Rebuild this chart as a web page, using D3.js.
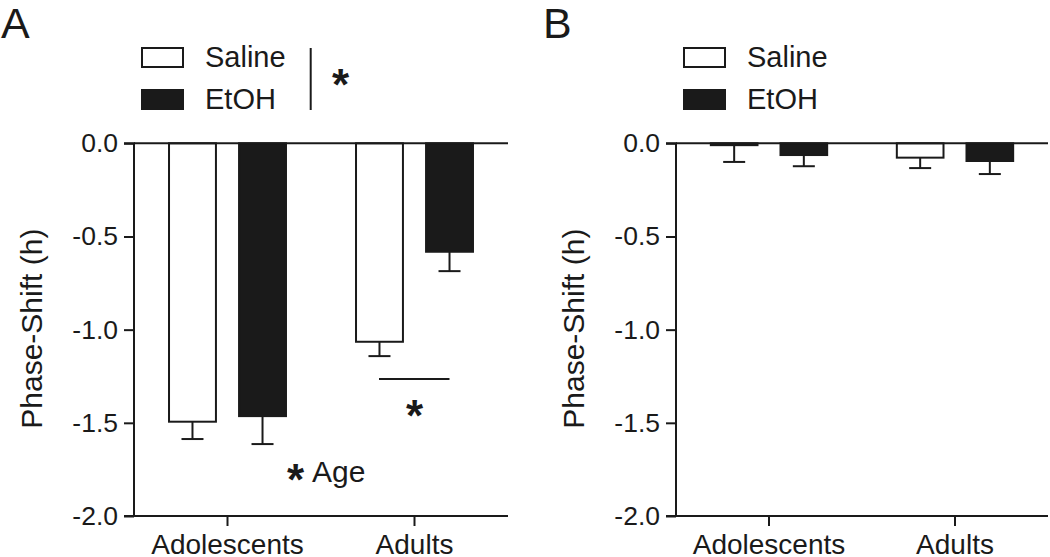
<!DOCTYPE html>
<html>
<head>
<meta charset="utf-8">
<script src="https://cdn.jsdelivr.net/npm/d3@7"></script>
<style>
  html, body { margin: 0; padding: 0; background: #fff; }
  svg { display: block; }
  text { font-family: "Liberation Sans", Arial, Helvetica, sans-serif; fill: #1a1a1a; }
</style>
</head>
<body>
<svg id="chart" width="1050" height="557"></svg>
<script>
// ---- data ----
const groups = ["Adolescents", "Adults"];
const treatments = ["Saline", "EtOH"];
const yTicks = [0, -0.5, -1.0, -1.5, -2.0];

// Panel A
const aSaline = [-1.494, -1.065];
const aSalineSem = [0.093, 0.077];
const aEtoh = [-1.464, -0.582];
const aEtohSem = [0.150, 0.104];

// Panel B
const bSaline = [-0.010, -0.077];
const bSalineSem = [0.090, 0.056];
const bEtoh = [-0.063, -0.095];
const bEtohSem = [0.060, 0.070];

const fills = { Saline: "#ffffff", EtOH: "#1a1a1a" };
const ink = "#1a1a1a";

const svg = d3.select("#chart");

function panel(opts) {
  const { x0, x1, label, saline, salineSem, etoh, etohSem } = opts;
  const yTop = 143.3, yBot = 516;
  const g = svg.append("g");

  const x = d3.scaleBand().domain(groups).range([x0, x1]).padding(0);
  const xi = d3.scaleBand().domain(treatments).range([0, x.bandwidth()])
    .paddingInner(0.33).paddingOuter(0.5);
  const y = d3.scaleLinear().domain([-2, 0]).range([yBot, yTop]);

  const rows = [];
  groups.forEach((grp, i) => {
    rows.push({ grp, t: "Saline", v: saline[i], e: salineSem[i] });
    rows.push({ grp, t: "EtOH", v: etoh[i], e: etohSem[i] });
  });

  // error bars (one-sided, downward)
  const eb = g.append("g").attr("stroke", ink).attr("stroke-width", 2);
  rows.forEach(r => {
    const cx = x(r.grp) + xi(r.t) + xi.bandwidth() / 2;
    eb.append("line").attr("x1", cx).attr("x2", cx)
      .attr("y1", y(r.v)).attr("y2", y(r.v - r.e));
    eb.append("line").attr("x1", cx - 11).attr("x2", cx + 11)
      .attr("y1", y(r.v - r.e)).attr("y2", y(r.v - r.e));
  });

  // bars
  g.append("g").selectAll("rect").data(rows).join("rect")
    .attr("x", d => x(d.grp) + xi(d.t))
    .attr("width", xi.bandwidth())
    .attr("y", d => y(0))
    .attr("height", d => y(d.v) - y(0))
    .attr("fill", d => fills[d.t])
    .attr("stroke", ink)
    .attr("stroke-width", 2);

  // zero line
  g.append("line").attr("x1", x0).attr("x2", x1)
    .attr("y1", y(0)).attr("y2", y(0))
    .attr("stroke", ink).attr("stroke-width", 2);

  // y axis
  const yAxis = d3.axisLeft(y).tickValues(yTicks).tickSize(10).tickPadding(6)
    .tickFormat(d3.format(".1f"));
  const ya = g.append("g").attr("transform", `translate(${x0},0)`).call(yAxis);
  ya.select(".domain").attr("stroke", ink).attr("stroke-width", 2)
    .attr("d", `M-10,${yTop}H0V${yBot}H-10`);
  ya.selectAll(".tick line").attr("stroke", ink).attr("stroke-width", 2);
  ya.selectAll(".tick text").attr("font-size", 26.5).attr("fill", ink)
    .style("font-family", '"Liberation Sans", Arial, sans-serif')
    .text(d => d3.format(".1f")(d).replace("−", "-"));

  // x axis
  const xAxis = d3.axisBottom(x).tickSize(10).tickPadding(8);
  const xa = g.append("g").attr("transform", `translate(0,${yBot})`).call(xAxis);
  xa.select(".domain").attr("stroke", ink).attr("stroke-width", 2)
    .attr("d", `M${x0},0H${x1}`);
  xa.selectAll(".tick line").attr("stroke", ink).attr("stroke-width", 2);
  xa.selectAll(".tick text").attr("font-size", 28).attr("fill", ink)
    .style("font-family", '"Liberation Sans", Arial, sans-serif');

  // y title
  g.append("text")
    .attr("transform", `translate(${x0 - 92},${(yTop + yBot) / 2 - 1}) rotate(-90)`)
    .attr("text-anchor", "middle")
    .attr("font-size", 30)
    .text("Phase-Shift (h)");

  // panel letter
  g.append("text").attr("x", x0 - 133).attr("y", 38)
    .attr("font-size", 43).text(label);

  // legend
  const lg = g.append("g");
  const lx = x0 + 8;
  const ly = [48, 90];
  treatments.forEach((t, i) => {
    lg.append("rect").attr("x", lx).attr("y", ly[i]).attr("width", 41)
      .attr("height", 19).attr("fill", fills[t]).attr("stroke", ink)
      .attr("stroke-width", 2);
    lg.append("text").attr("x", lx + 63).attr("y", ly[i] + 19)
      .attr("font-size", 29).text(t);
  });

  return { g, x, xi, y };
}

function star(g, cx, cy) {
  g.append("text").attr("x", cx).attr("y", cy + 21)
    .attr("text-anchor", "middle").attr("font-size", 44)
    .attr("font-weight", "bold").text("*");
}

const A = panel({ x0: 134, x1: 508, label: "A",
  saline: aSaline, salineSem: aSalineSem, etoh: aEtoh, etohSem: aEtohSem });
const B = panel({ x0: 676, x1: 1048, label: "B",
  saline: bSaline, salineSem: bSalineSem, etoh: bEtoh, etohSem: bEtohSem });

// Panel A annotations
A.g.append("line").attr("x1", 310.7).attr("x2", 310.7).attr("y1", 48).attr("y2", 110)
  .attr("stroke", ink).attr("stroke-width", 2);
star(A.g, 340.5, 79);
A.g.append("line").attr("x1", 379).attr("x2", 449.5).attr("y1", 379).attr("y2", 379)
  .attr("stroke", ink).attr("stroke-width", 2);
star(A.g, 414.5, 409.5);
star(A.g, 295.5, 474);
A.g.append("text").attr("x", 312).attr("y", 482).attr("font-size", 30).text("Age");
</script>
</body>
</html>
